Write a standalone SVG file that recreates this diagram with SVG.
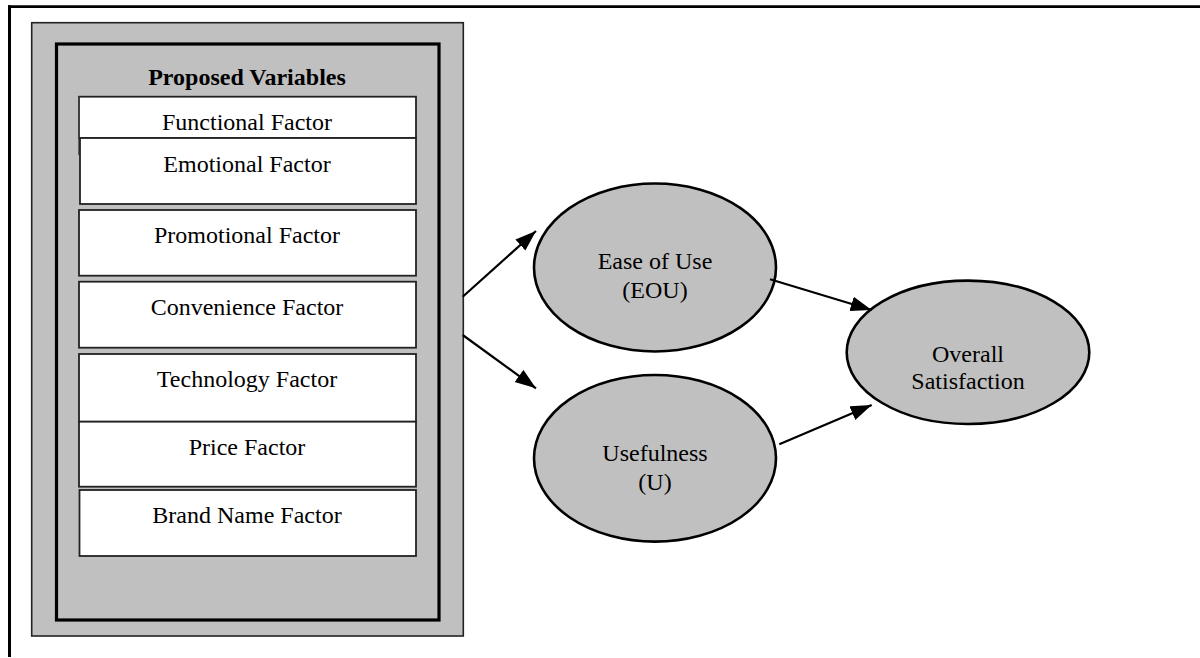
<svg xmlns="http://www.w3.org/2000/svg" width="1200" height="658" viewBox="0 0 1200 658">
<style>
.t{font-family:"Liberation Serif","Times New Roman",serif;font-size:24px;fill:#000;text-anchor:middle}
.b{font-weight:bold}
.box{fill:#fff;stroke:#222;stroke-width:1.8}
.ell{fill:#c0c0c0;stroke:#000;stroke-width:2.6}
.ln{stroke:#000;stroke-width:2.2;fill:none;marker-end:url(#ah)}
</style>
<defs>
<marker id="ah" markerUnits="userSpaceOnUse" markerWidth="24" markerHeight="16" refX="21" refY="7.5" orient="auto">
<path d="M0,0 L21,7.5 L0,15 z" fill="#000"/>
</marker>
</defs>
<rect width="1200" height="658" fill="#fff"/>
<g id="frame">
<line x1="8" y1="6.7" x2="1200" y2="6.7" stroke="#000" stroke-width="2.8"/>
<line x1="9.5" y1="5.3" x2="9.5" y2="657" stroke="#000" stroke-width="3"/>
</g>
<g id="proposed-variables">
<rect x="31.7" y="22.7" width="431.6" height="613.3" fill="#c0c0c0" stroke="#222" stroke-width="1.6"/>
<rect x="56.5" y="44" width="382.5" height="576" fill="#c0c0c0" stroke="#000" stroke-width="3.2"/>
<text class="t b" x="247" y="85">Proposed Variables</text>
</g>
<g id="functional">
<rect class="box" x="79" y="96.7" width="337" height="41.3"/>
<line x1="79" y1="96.7" x2="79" y2="155" stroke="#444" stroke-width="1.5"/>
<text class="t" x="247" y="130">Functional Factor</text>
</g>
<g id="emotional">
<rect class="box" x="80" y="138" width="336" height="66" stroke="#000" stroke-width="2"/>
<text class="t" x="247" y="171.5">Emotional Factor</text>
</g>
<g id="promotional">
<rect class="box" x="79" y="210" width="337" height="65.7"/>
<text class="t" x="247" y="243">Promotional Factor</text>
</g>
<g id="convenience">
<rect class="box" x="79" y="281.7" width="337" height="66"/>
<text class="t" x="247" y="315">Convenience Factor</text>
</g>
<g id="technology">
<rect class="box" x="79" y="354" width="337" height="67.7"/>
<text class="t" x="247" y="386.7">Technology Factor</text>
</g>
<g id="price">
<rect class="box" x="79" y="421.7" width="337" height="65"/>
<text class="t" x="247" y="455">Price Factor</text>
</g>
<g id="brand-name">
<rect class="box" x="79.5" y="490" width="336.5" height="66"/>
<text class="t" x="247" y="522.7">Brand Name Factor</text>
</g>
<g id="ease-of-use">
<ellipse class="ell" cx="655" cy="267.5" rx="121" ry="84"/>
<text class="t" x="655" y="269.3">Ease of Use</text>
<text class="t" x="655" y="297.7">(EOU)</text>
</g>
<g id="usefulness">
<ellipse class="ell" cx="655" cy="458.3" rx="121" ry="83.3"/>
<text class="t" x="655" y="461">Usefulness</text>
<text class="t" x="655" y="490">(U)</text>
</g>
<g id="overall-satisfaction">
<ellipse class="ell" cx="968" cy="352.3" rx="121.3" ry="71.7"/>
<text class="t" x="968" y="361.7">Overall</text>
<text class="t" x="968" y="389.3">Satisfaction</text>
</g>
<g id="connectors">
<line class="ln" x1="462.7" y1="296.7" x2="536" y2="231"/>
<line class="ln" x1="462.7" y1="335" x2="536" y2="388.3"/>
<line class="ln" x1="770" y1="279.3" x2="871.7" y2="310"/>
<line class="ln" x1="779.3" y1="444.3" x2="871.7" y2="405"/>
</g>
</svg>
